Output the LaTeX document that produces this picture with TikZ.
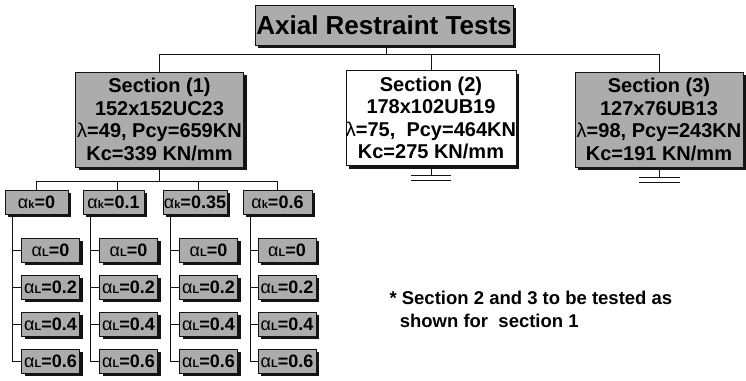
\documentclass[tikz,border=0pt]{standalone}
\usepackage{fontspec}
\setmainfont{Liberation Sans}
\usepackage{tikz}
\usetikzlibrary{positioning,shadows,calc}
\definecolor{boxgray}{RGB}{172,172,172}
\definecolor{lineblack}{RGB}{20,20,20}
\newcommand{\ak}[1]{{\mdseries α}{\fontsize{11}{11}\selectfont k}#1}
\newcommand{\aL}[1]{{\mdseries α}{\fontsize{11}{11}\selectfont L}#1}

\begin{document}
\begin{tikzpicture}[x=1pt,y=-1pt,
    shadowed/.style={drop shadow={shadow xshift=3pt,shadow yshift=-3pt,opacity=1,fill=lineblack}},
    titlebox/.style={draw=lineblack,fill=boxgray,shadowed,line width=0.8pt,inner sep=0pt,
          minimum width=258pt,minimum height=40pt,font=\fontsize{26}{30}\selectfont\bfseries},
    secbox/.style={draw=lineblack,fill=boxgray,shadowed,line width=0.8pt,inner sep=0pt,
          minimum width=168pt,minimum height=95pt,align=center,font=\fontsize{20}{22.5}\selectfont\bfseries},
    kbox/.style={draw=lineblack,fill=boxgray,shadowed,line width=0.6pt,inner sep=0pt,
          minimum height=24pt,font=\fontsize{18}{18}\selectfont\bfseries},
    lbox/.style={kbox,minimum width=58pt},
    wire/.style={draw=lineblack,line width=0.8pt}]
    \useasboundingbox (0,0) rectangle (746,380);

    % top level
    \node[titlebox] (title) at (384,25) {Axial Restraint Tests};
    \node[secbox] (sec1) at (159.5,119.5)
      {Section (1)\\152x152UC23\\{\mdseries λ}=49, Pcy=659KN\\Kc=339 KN/mm};
    \node[secbox,fill=white] (sec2) at (431,118)
      {Section (2)\\178x102UB19\\{\mdseries λ}=75,\ \ Pcy=464KN\\Kc=275 KN/mm};
    \node[secbox] (sec3) at (659,119.5)
      {Section (3)\\127x76UB13\\{\mdseries λ}=98, Pcy=243KN\\Kc=191 KN/mm};

    \draw[wire] ([xshift=2pt]title.south) -- ++(0,9) coordinate (top);
    \draw[wire] (sec1.north) |- (top) -| (sec3.north);
    \draw[wire] (sec2.north) -- (sec2.north |- top);

    % supports under section 2 and 3
    \draw[wire] (sec2.south) -- ++(0,9) coordinate (g2);
    \draw[wire] ([xshift=-20pt]g2) -- ([xshift=20pt]g2);
    \draw[wire] ([xshift=-20pt,yshift=-5pt]g2) -- ([xshift=20pt,yshift=-5pt]g2);
    \draw[wire] (sec3.south) -- ++(0,10) coordinate (g3);
    \draw[wire] ([xshift=-20pt]g3) -- ([xshift=21pt]g3);
    \draw[wire] ([xshift=-20pt,yshift=-5pt]g3) -- ([xshift=21pt,yshift=-5pt]g3);

    % alpha_k level
    \node[kbox,minimum width=63pt] (k1) at (36.5,202) {\ak{=0}};
    \node[kbox,minimum width=61pt] (k2) at (113.5,202) {\ak{=0.1}};
    \node[kbox,minimum width=64pt] (k3) at (195,202) {\ak{=0.35}};
    \node[kbox,minimum width=69pt] (k4) at (277.5,202) {\ak{=0.6}};

    \draw[wire] (sec1.south) -- ++(0,14) coordinate (mid);
    \draw[wire] (k1.north) |- (mid) -| (k4.north);
    \draw[wire] ([xshift=4pt]k2.north) -- ([xshift=4pt]k2.north |- mid);
    \draw[wire] ([xshift=3pt]k3.north) -- ([xshift=3pt]k3.north |- mid);

    % alpha_L level
    \foreach \c/\x in {1/50.5,2/128.5,3/208.5,4/287} {
      \foreach \r/\v/\y in {1/0/250,2/0.2/287,3/0.4/324,4/0.6/361} {
        \node[lbox] (l\c\r) at (\x,\y) {\aL{=\v}};
        \draw[wire] ([xshift=8pt]k\c.south west) |- (l\c\r.west);
      }
    }

    % note
    \node[anchor=west,font=\fontsize{18.5}{23}\selectfont\bfseries,align=left] (note) at (386,309)
      {* Section 2 and 3 to be tested as\\\ \ shown for\ \ section 1};
\end{tikzpicture}
\end{document}
